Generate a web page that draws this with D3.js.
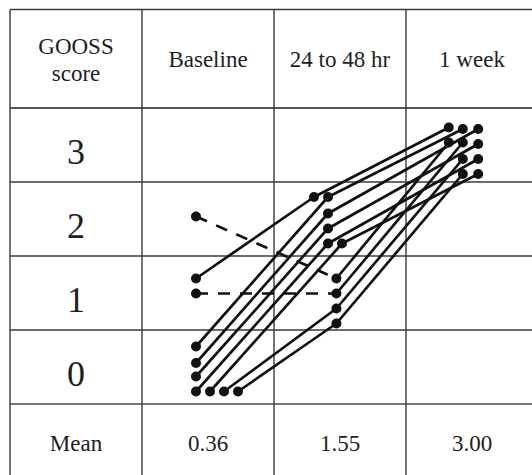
<!DOCTYPE html>
<html><head><meta charset="utf-8">
<script src="https://cdn.jsdelivr.net/npm/d3@7"></script>
<style>body{margin:0;background:#fff}svg{display:block}svg text{font-family:"Liberation Serif","Times New Roman","DejaVu Serif",serif}</style>
</head><body>
<svg id="c" width="532" height="475"></svg>
<script>
// ---- data ----
const times = ["Baseline", "24 to 48 hr", "1 week"];
const scores = [3, 2, 1, 0];
const headerLines = ["GOOSS", "score"];
const meanLabel = "Mean";
const means = ["0.36", "1.55", "3.00"];
// GOOSS score of each patient at each time point
const baseline = [2, 1, 1, 0, 0, 0, 0, 0, 0, 0];
const hr24to48 = [1, 2, 1, 2, 2, 2, 2, 2, 1, 1];
const week1    = [3, 3, 3, 3, 3, 3, 3, 3, 3, 3];
// whether the baseline -> 24/48 hr segment is dashed
const dashedFirst = [true, false, true, false, false, false, false, false, false, false];
// jitter slots [column slot, row slot] of each patient inside its cell
const slotsBaseline = [[1,1.2],[1,0.4],[1,1.4],[1,0],[1,1.1],[1,2],[1,3],[2,3],[3,3],[4,3]];
const slots24to48   = [[1.6,0.4],[0,-0.1],[1.6,1.4],[1,-0.1],[1,1],[1,2],[1,3],[2,3],[1.6,2.4],[1.6,3.4]];
const slotsWeek     = [[0.2,1.2],[0.2,0.2],[1.2,1.2],[1.2,0.3],[2.3,0.3],[2.3,1.3],[2.3,2.3],[2.3,3.3],[1.2,2.3],[1.2,3.3]];

(function () {
// ---- layout ----
const svg = d3.select("#c");
const gLeft = 10, gRight = 538, gTop = 9.5, headBottom = 108, rowsBottom = 404, gBottom = 480;

const x = d3.scaleBand().domain(["label", ...times]).range([gLeft, gRight]);
const y = d3.scaleBand().domain(scores).range([headBottom, rowsBottom]);
const sx = d3.scaleLinear().domain([0, 1]).range([-26, -12]);
const sy = d3.scaleLinear().domain([0, 1]).range([2 - 22.5, 2 - 7.5]);

const grid = svg.append("g").attr("stroke", "#3a3a3a").attr("fill", "none");
grid.append("line").attr("x1", gLeft).attr("x2", gRight).attr("y1", gTop).attr("y2", gTop).attr("stroke-width", 1.4);
grid.append("line").attr("x1", gLeft).attr("x2", gRight).attr("y1", headBottom).attr("y2", headBottom).attr("stroke-width", 2).attr("stroke", "#555");
scores.slice(1).forEach(s => {
  grid.append("line").attr("x1", gLeft).attr("x2", gRight).attr("y1", y(s)).attr("y2", y(s)).attr("stroke-width", 1.4);
});
grid.append("line").attr("x1", gLeft).attr("x2", gRight).attr("y1", rowsBottom).attr("y2", rowsBottom).attr("stroke-width", 1.6).attr("stroke", "#4a4a4a");
x.domain().forEach(d => {
  grid.append("line").attr("x1", x(d)).attr("x2", x(d)).attr("y1", gTop).attr("y2", gBottom).attr("stroke-width", 1.4);
});

const txt = svg.append("g").attr("fill", "#1e1e1e").attr("text-anchor", "middle");
const cx = d => x(d) + x.bandwidth() / 2;
txt.append("text").attr("x", cx("label")).attr("y", 54).attr("font-size", 23).text(headerLines[0]);
txt.append("text").attr("x", cx("label")).attr("y", 81).attr("font-size", 23).text(headerLines[1]);
times.forEach(t => {
  txt.append("text").attr("x", cx(t)).attr("y", 67).attr("font-size", 23).text(t);
});
scores.forEach(s => {
  txt.append("text").attr("x", cx("label")).attr("y", y(s) + y.bandwidth() / 2 + 19)
    .attr("font-size", 36).text(String(s));
});
txt.append("text").attr("x", cx("label")).attr("y", 451).attr("font-size", 23).text(meanLabel);
times.forEach((t, i) => {
  txt.append("text").attr("x", cx(t)).attr("y", 451).attr("font-size", 23).text(means[i]);
});

// ---- patient lines ----
const series = [baseline, hr24to48, week1];
const slots = [slotsBaseline, slots24to48, slotsWeek];
const pos = (ti, pi) => {
  const s = series[ti][pi], sl = slots[ti][pi];
  return [cx(times[ti]) + sx(sl[0]), y(s) + y.bandwidth() / 2 + sy(sl[1])];
};
const patients = d3.range(baseline.length);
const lg = svg.append("g").attr("stroke", "#111").attr("stroke-width", 2.7).attr("fill", "none");
patients.forEach(pi => {
  const p0 = pos(0, pi), p1 = pos(1, pi), p2 = pos(2, pi);
  lg.append("line").attr("x1", p0[0]).attr("y1", p0[1]).attr("x2", p1[0]).attr("y2", p1[1])
    .attr("stroke-dasharray", dashedFirst[pi] ? "12,10" : null);
  lg.append("line").attr("x1", p1[0]).attr("y1", p1[1]).attr("x2", p2[0]).attr("y2", p2[1]);
});
const dg = svg.append("g").attr("fill", "#111");
patients.forEach(pi => {
  [0, 1, 2].forEach(ti => {
    const p = pos(ti, pi);
    dg.append("circle").attr("cx", p[0]).attr("cy", p[1]).attr("r", 5);
  });
});
})();
</script>
</body></html>
